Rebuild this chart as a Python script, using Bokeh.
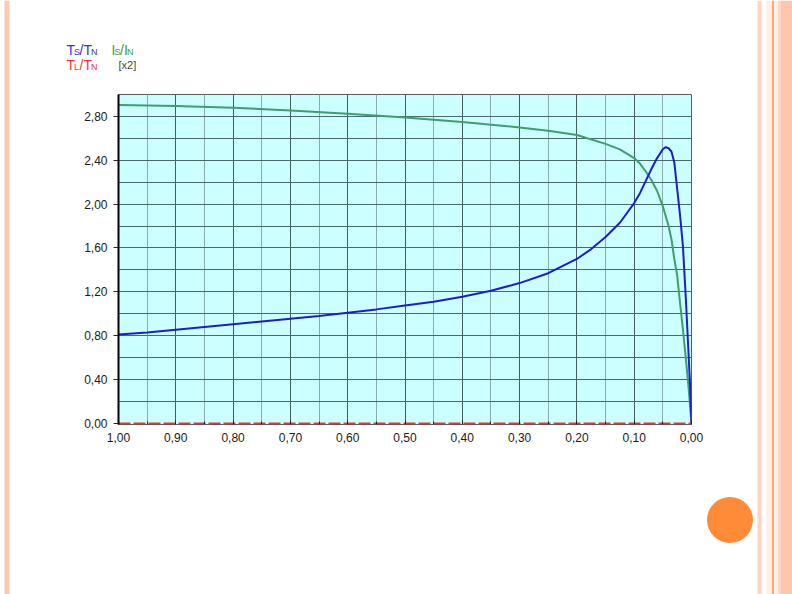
from bokeh.plotting import figure
from bokeh.models import Range1d, FixedTicker, CustomJSTickFormatter
from bokeh.layouts import row, column
from bokeh.embed import file_html
from bokeh.resources import INLINE
from bokeh.core.properties import value

# ---- data ----
torque_slip = [1.00, 0.95, 0.90, 0.85, 0.80, 0.75, 0.70, 0.65, 0.60, 0.55, 0.50,
               0.45, 0.40, 0.35, 0.30, 0.25, 0.20, 0.175, 0.15, 0.125, 0.10, 0.09,
               0.08, 0.07, 0.06, 0.05, 0.045, 0.04, 0.035, 0.03, 0.025, 0.02,
               0.015, 0.01, 0.005, 0.0025, 0.0]
torque_ratio = [0.81, 0.83, 0.855, 0.88, 0.905, 0.93, 0.955, 0.98, 1.01, 1.04, 1.075,
                1.11, 1.155, 1.21, 1.28, 1.37, 1.50, 1.59, 1.70, 1.83, 2.01, 2.10,
                2.21, 2.32, 2.42, 2.50, 2.52, 2.51, 2.48, 2.38, 2.14, 1.90,
                1.62, 1.15, 0.62, 0.35, 0.0]

current_slip = [1.00, 0.90, 0.80, 0.70, 0.60, 0.50, 0.40, 0.30, 0.25, 0.20, 0.15,
                0.125, 0.10, 0.09, 0.08, 0.07, 0.06, 0.05, 0.04, 0.035, 0.03,
                0.025, 0.02, 0.015, 0.01, 0.005, 0.0]
current_ratio_x2 = [2.905, 2.895, 2.88, 2.855, 2.825, 2.79, 2.75, 2.70, 2.67, 2.63, 2.55,
                    2.50, 2.42, 2.37, 2.30, 2.22, 2.12, 1.98, 1.80, 1.68, 1.50,
                    1.35, 1.10, 0.86, 0.60, 0.32, 0.0]

load_slip = [1.0, 0.0]
load_ratio = [0.0, 0.0]

x_ticks = [1.0, 0.9, 0.8, 0.7, 0.6, 0.5, 0.4, 0.3, 0.2, 0.1, 0.0]
x_minor = [0.95, 0.85, 0.75, 0.65, 0.55, 0.45, 0.35, 0.25, 0.15, 0.05]
y_ticks = [0.0, 0.4, 0.8, 1.2, 1.6, 2.0, 2.4, 2.8]
y_grid = [0.2, 0.4, 0.6, 0.8, 1.0, 1.2, 1.4, 1.6, 1.8, 2.0, 2.2, 2.4, 2.6, 2.8]

FONT = "Liberation Sans"
BLUE = "#1c1cd6"
GREEN = "#3f9d6e"
RED = "#ff2a2a"

FL, FW, FT, FH = 118, 573, 94, 330   # frame position on the page
LEFT_W = 10
HEAD_H = 80
RIGHT_B = 14
MID_W = FL - LEFT_W + FW + RIGHT_B
RX = LEFT_W + MID_W

# ---- main chart ----
p = figure(frame_width=FW, frame_height=FH,
           x_range=Range1d(1.0, 0.0), y_range=Range1d(-0.01, 3.0),
           output_backend="svg", toolbar_location=None,
           min_border_left=FL - LEFT_W, min_border_right=RIGHT_B,
           min_border_top=FT - HEAD_H, min_border_bottom=594 - FT - FH,
           background_fill_color="#ccffff", border_fill_color="white",
           outline_line_color="#5a5a5a", outline_line_width=1)

fmt = CustomJSTickFormatter(code="return tick.toFixed(2).replace('.', ',');")

p.xaxis.ticker = FixedTicker(ticks=x_ticks, minor_ticks=x_minor)
p.xaxis.formatter = fmt
p.xaxis.axis_line_color = None
p.xaxis.major_tick_in = 4
p.xaxis.major_tick_out = 0
p.xaxis.minor_tick_in = 3
p.xaxis.minor_tick_out = 0
p.xaxis.major_tick_line_color = "#222222"
p.xaxis.minor_tick_line_color = "#222222"
p.xaxis.major_label_standoff = 8

p.yaxis.ticker = FixedTicker(ticks=y_ticks, minor_ticks=[])
p.yaxis.formatter = fmt
p.yaxis.axis_line_color = "black"
p.yaxis.axis_line_width = 2
p.yaxis.major_tick_in = 0
p.yaxis.major_tick_out = 5
p.yaxis.major_tick_line_color = "#222222"
p.yaxis.minor_tick_line_color = None
p.yaxis.major_label_standoff = 6

for ax in (p.xaxis, p.yaxis):
    ax.major_label_text_font = FONT
    ax.major_label_text_font_size = "12px"
    ax.major_label_text_color = "#1a1a1a"

p.xgrid.ticker = FixedTicker(ticks=x_ticks, minor_ticks=x_minor)
p.xgrid.grid_line_color = "#3f5f5f"
p.xgrid.grid_line_width = 1
p.xgrid.minor_grid_line_color = "#86aeae"
p.xgrid.minor_grid_line_width = 1
p.ygrid.ticker = FixedTicker(ticks=y_grid, minor_ticks=[])
p.ygrid.grid_line_color = "#4a6a6a"
p.ygrid.grid_line_width = 1

p.line(current_slip, current_ratio_x2, line_color=GREEN, line_width=2)
p.line(torque_slip, torque_ratio, line_color=BLUE, line_width=2)
p.line(load_slip, load_ratio, line_color=RED, line_width=2, line_dash="12 3")

# ---- legend header (page-pixel coordinates) ----
lg = figure(width=MID_W, height=HEAD_H, x_range=Range1d(LEFT_W, RX), y_range=Range1d(HEAD_H, 0),
            output_backend="svg", toolbar_location=None,
            x_axis_type=None, y_axis_type=None, min_border=0,
            outline_line_color=None, background_fill_color="white",
            border_fill_color="white")
lg.grid.visible = False

LB, LG, LR = "#3535d0", "#3f9a4c", "#ff3030"
pieces = [
    ("T", 66, 49, "14px", LB), ("S", 73.5, 51.5, "9px", LB),
    ("/T", 79, 49, "14px", LB), ("N", 90.5, 51.5, "9px", LB),
    ("I", 111, 49, "14px", LG), ("S", 114, 51.5, "9px", LG),
    ("/I", 119.5, 49, "14px", LG), ("N", 126.5, 51.5, "9px", LG),
    ("T", 66, 64, "14px", LR), ("L", 73.5, 66.5, "9px", LR),
    ("/T", 79, 64, "14px", LR), ("N", 90.5, 66.5, "9px", LR),
    ("[x2]", 118, 64.5, "11px", "#444444"),
]
for t, x, y, s, c in pieces:
    lg.text(x=[x], y=[y], text=[t], text_font=value(FONT), text_font_size=s,
            text_color=c, text_baseline="alphabetic", text_align="left")

# ---- slide decoration ----
left = figure(width=LEFT_W, height=594, x_range=Range1d(0, LEFT_W), y_range=Range1d(594, 0),
              output_backend="svg", toolbar_location=None,
              x_axis_type=None, y_axis_type=None, min_border=0,
              outline_line_color=None, background_fill_color="white",
              border_fill_color="white")
left.grid.visible = False
left.quad(left=[4], right=[9], top=0, bottom=594, color="#ffc8b4", line_color=None)

right = figure(width=792 - RX, height=594, x_range=Range1d(RX, 792), y_range=Range1d(594, 0),
               output_backend="svg", toolbar_location=None,
               x_axis_type=None, y_axis_type=None, min_border=0,
               outline_line_color=None, background_fill_color="white",
               border_fill_color="white")
right.grid.visible = False
right.quad(left=[757, 765.5, 777.5, 780], right=[761, 777.5, 780, 792],
           top=0, bottom=594,
           color=["#ffd2c2", "#fff0ea", "#ffd6c8", "#ffc6ae"], line_color=None)
right.quad(left=[771.8], right=[773.2], top=0, bottom=594, color="#ff8c3c", line_color=None)
right.circle(x=[729.5], y=[519.5], radius=23, fill_color="#ff8a38", line_color=None)

layout = row(column(left), column(row(lg), row(p)), column(right))

open("out.html", "w").write(file_html(layout, INLINE))
